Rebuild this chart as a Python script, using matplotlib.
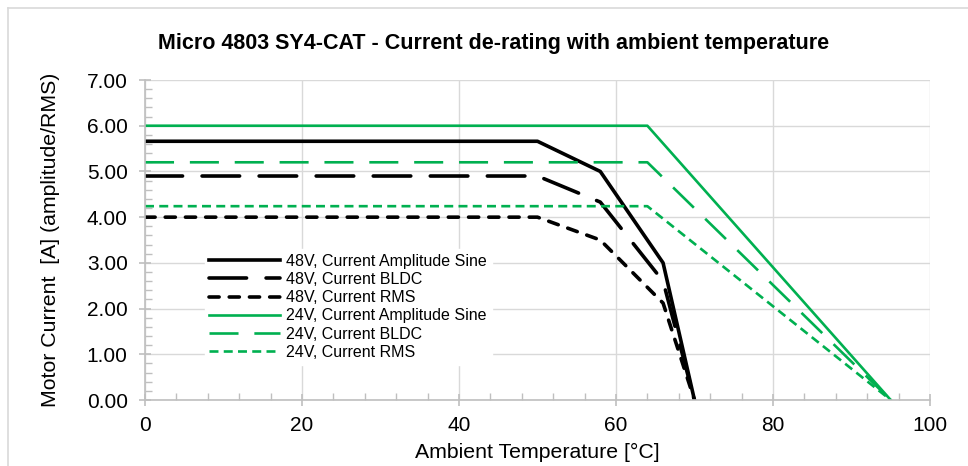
import matplotlib.pyplot as plt
from matplotlib.lines import Line2D
from matplotlib.ticker import MultipleLocator, FormatStrFormatter

plt.rcParams['font.family'] = ['Liberation Sans', 'DejaVu Sans']

# data
temp_48 = [0, 50, 58, 66, 70]
sine_48 = [5.66, 5.66, 5.0, 3.0, 0.0]
bldc_48 = [4.9, 4.9, 4.33, 2.6, 0.0]
rms_48 = [4.0, 4.0, 3.5, 2.12, 0.0]

temp_24 = [0, 64, 95]
sine_24 = [6.0, 6.0, 0.0]
bldc_24 = [5.2, 5.2, 0.0]
rms_24 = [4.24, 4.24, 0.0]

labels = ['48V, Current Amplitude Sine', '48V, Current BLDC', '48V, Current RMS',
          '24V, Current Amplitude Sine', '24V, Current BLDC', '24V, Current RMS']

green = '#00B050'
grid_c = '#D9D9D9'
axis_c = '#BFBFBF'

fig = plt.figure(figsize=(9.68, 4.66), dpi=100)
ax = fig.add_axes([0.1498, 0.1416, 0.8109, 0.6867])

lw_b = 2.6
lw_g = 1.9
ax.plot(temp_48, sine_48, color='black', lw=lw_b, label=labels[0])
ax.plot(temp_48, bldc_48, color='black', lw=lw_b, dashes=(10.4, 5.4), label=labels[1],
        dash_capstyle='round')
ax.plot(temp_48, rms_48, color='black', lw=lw_b, dashes=(2.8, 2.8), label=labels[2],
        dash_capstyle='round')
ax.plot(temp_24, sine_24, color=green, lw=lw_g, label=labels[3])
ax.plot(temp_24, bldc_24, color=green, lw=lw_g, dashes=(11.0, 6.0), label=labels[4])
ax.plot(temp_24, rms_24, color=green, lw=lw_g, dashes=(3.4, 2.0), label=labels[5])

ax.set_xlim(0, 100)
ax.set_ylim(0, 7)
ax.xaxis.set_major_locator(MultipleLocator(20))
ax.xaxis.set_minor_locator(MultipleLocator(4))
ax.yaxis.set_major_locator(MultipleLocator(1))
ax.yaxis.set_minor_locator(MultipleLocator(0.2))
ax.yaxis.set_major_formatter(FormatStrFormatter('%.2f'))

ax.grid(True, which='major', color=grid_c, lw=1.0)
ax.set_axisbelow(True)
for s in ['top', 'right']:
    ax.spines[s].set_visible(False)
for s in ['left', 'bottom']:
    ax.spines[s].set_color(axis_c)
    ax.spines[s].set_linewidth(1.2)

ax.tick_params(axis='both', which='major', direction='inout', length=9, width=1.2,
               color=axis_c, labelsize=15, labelcolor='black')
ax.tick_params(axis='both', which='minor', direction='in', length=5, width=1.0, color=axis_c)
ax.tick_params(axis='y', which='major', pad=8)
ax.tick_params(axis='x', which='major', pad=7)

ax.set_xlabel('Ambient Temperature [°C]', fontsize=15.3, labelpad=6)
ax.set_ylabel('Motor Current  [A] (amplitude/RMS)', fontsize=15.3, labelpad=19)
fig.text(0.51, 0.906, 'Micro 4803 SY4-CAT - Current de-rating with ambient temperature',
         ha='center', va='center', fontsize=15.5, fontweight='bold')

leg = ax.legend(loc='upper left', bbox_to_anchor=(0.076, 0.472), fontsize=11.5,
                frameon=True, handlelength=4.4, handletextpad=0.4, labelspacing=0.2,
                borderpad=0.3, borderaxespad=0)
leg.get_frame().set_edgecolor('white')
leg.get_frame().set_facecolor('white')
leg.get_frame().set_alpha(1)

# outer chart border (left and top visible)
fig.add_artist(Line2D([8 / 968, 8 / 968], [0, 1 - 8 / 466], transform=fig.transFigure,
                      color='#D9D9D9', lw=1.2))
fig.add_artist(Line2D([8 / 968, 1], [1 - 8 / 466, 1 - 8 / 466], transform=fig.transFigure,
                      color='#D9D9D9', lw=1.2))

fig.savefig('out.png', dpi=100)
